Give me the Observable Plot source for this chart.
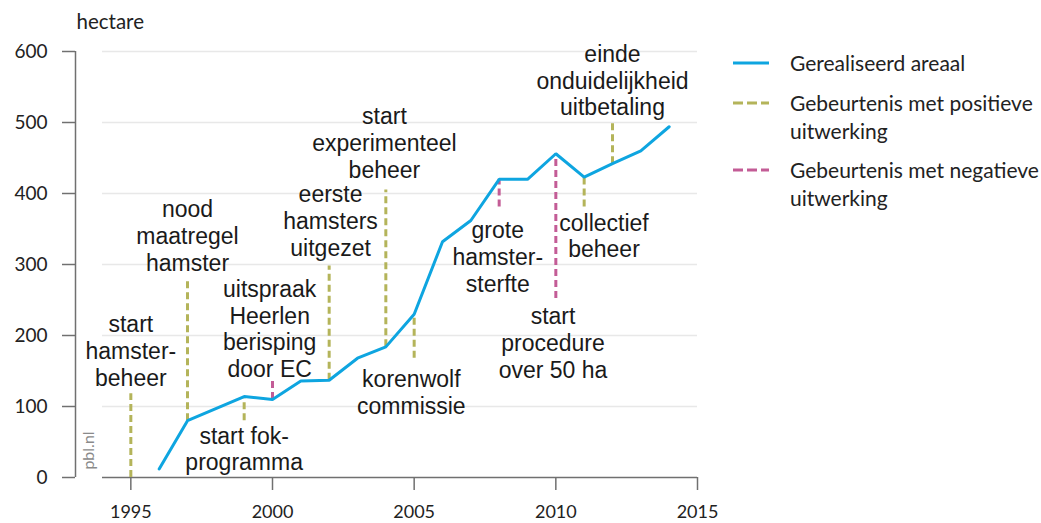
<!DOCTYPE html>
<html>
<head>
<meta charset="utf-8">
<script src="https://cdn.jsdelivr.net/npm/d3@7"></script>
<script src="https://cdn.jsdelivr.net/npm/@observablehq/plot@0.6"></script>
<style>
  body { margin: 0; background: #fff; }
  #wrap { position: relative; width: 1041px; height: 523px; overflow: hidden; }
  #legend { position: absolute; left: 733px; top: 49px; font-family: Lato, "Open Sans", sans-serif; font-size: 21px; color: #222; }
  .item { display: flex; align-items: flex-start; margin-bottom: 11.5px; }
  .item svg { flex: none; width: 36px; height: 28px; margin-right: 21px; }
  .item .lbl { line-height: 28px; white-space: pre; }
</style>
</head>
<body>
<div id="wrap"><div id="chart"></div><div id="legend"></div></div>
<script>
// Gerealiseerd areaal (hectare)
const years  = [1996, 1997, 1998, 1999, 2000, 2001, 2002, 2003, 2004, 2005, 2006, 2007, 2008, 2009, 2010, 2011, 2012, 2013, 2014];
const areaal = [12, 80, 97, 114, 110, 136, 137, 168, 184, 230, 332, 362, 420, 420, 456, 423, 442, 460, 494];

// Gebeurtenissen (dashed segments)
const eventYears = [1995, 1997, 1999, 2002, 2004, 2005, 2011, 2012, 2000, 2008, 2010];
const eventFrom  = [0, 80, 80, 137, 184, 168, 381, 442, 110, 381, 252];
const eventTo    = [118, 280, 114, 298, 405, 230, 423, 504, 136, 420, 456];
const eventType  = ["positief", "positief", "positief", "positief", "positief", "positief", "positief", "positief", "negatief", "negatief", "negatief"];

// Annotations
const labelTexts = [
  "start\nhamster-\nbeheer",
  "nood\nmaatregel\nhamster",
  "uitspraak\nHeerlen\nberisping\ndoor EC",
  "start fok-\nprogramma",
  "eerste\nhamsters\nuitgezet",
  "start\nexperimenteel\nbeheer",
  "korenwolf\ncommissie",
  "grote\nhamster-\nsterfte",
  "start\nprocedure\nover 50 ha",
  "einde\nonduidelijkheid\nuitbetaling",
  "collectief\nbeheer"
];
const labelYears  = [1995, 1997, 1999.9, 1999, 2002.05, 2003.95, 2004.9, 2007.95, 2009.9, 2012, 2011.7];
const labelValues = [179, 341, 210, 41, 362, 472, 120, 311, 190, 560, 341];

const xTicks = [1995, 2000, 2005, 2010, 2015];
const yTicks = [0, 100, 200, 300, 400, 500, 600];

const colors = { areaal: "#0ea5e0", positief: "#b4b45a", negatief: "#c35c96" };
const legendLabels = ["Gerealiseerd areaal", "Gebeurtenis met positieve\nuitwerking", "Gebeurtenis met negatieve\nuitwerking"];
const legendKeys = ["areaal", "positief", "negatief"];

const series = years.map((y, i) => ({ year: y, value: areaal[i] }));
const events = eventYears.map((y, i) => ({ year: y, from: eventFrom[i], to: eventTo[i], type: eventType[i] }));
const labels = labelTexts.map((t, i) => ({ text: t, year: labelYears[i], value: labelValues[i] }));

const axisGray = "#707070";

const chart = Plot.plot({
  width: 1041,
  height: 523,
  marginLeft: 102,
  marginRight: 344,
  marginTop: 51,
  marginBottom: 46,
  x: { domain: [1994, 2015] },
  y: { domain: [0, 600] },
  style: { fontFamily: "Lato, 'Open Sans', sans-serif", background: "#fff", overflow: "visible" },
  marks: [
    Plot.ruleY(yTicks.filter(d => d > 0), { stroke: "#e8e8e8", strokeWidth: 1.5 }),
    Plot.ruleY([0], { stroke: axisGray, strokeWidth: 1.5 }),
    Plot.ruleX([1994], { y1: 0, y2: 600, dx: -27, stroke: axisGray, strokeWidth: 1.5 }),
    Plot.axisY({ ticks: yTicks, tickSize: 13, tickPadding: 15, dx: -27, label: null, fontSize: 19, stroke: axisGray, fill: "#222", strokeWidth: 1.5, tickFormat: d => String(d) }),
    Plot.axisX({ ticks: xTicks, tickSize: 13, tickPadding: 15, label: null, fontSize: 18, stroke: axisGray, fill: "#222", strokeWidth: 1.5, tickFormat: d => String(d) }),
    Plot.ruleX(events, { x: "year", y1: "from", y2: "to", stroke: d => colors[d.type], strokeWidth: 3, strokeDasharray: "7,4" }),
    Plot.line(series, { x: "year", y: "value", stroke: colors.areaal, strokeWidth: 3, strokeLinejoin: "miter" }),
    Plot.text(labels, { x: "year", y: "value", text: "text", lineAnchor: "middle", fontSize: 23, lineHeight: 1.17, fontFamily: "'Liberation Sans', Arial, sans-serif", fill: "#1a1a1a" }),
    Plot.text(["hectare"], { frameAnchor: "top-left", dx: -26, dy: -29, textAnchor: "start", lineAnchor: "middle", fontSize: 20.5, fill: "#222" }),
    Plot.text(["pbl.nl"], { frameAnchor: "bottom-left", dx: -14, dy: -27, rotate: -90, textAnchor: "middle", lineAnchor: "middle", fontSize: 16, fill: "#8a8a8a" })
  ]
});
document.getElementById("chart").appendChild(chart);

const legend = document.getElementById("legend");
legendKeys.forEach((k, i) => {
  const item = document.createElement("div");
  item.className = "item";
  const dash = k === "areaal" ? "" : ' stroke-dasharray="10,4"';
  item.innerHTML = `<svg viewBox="0 0 36 28"><line x1="0" x2="36" y1="14" y2="14" stroke="${colors[k]}" stroke-width="3"${dash}/></svg><div class="lbl"></div>`;
  item.querySelector(".lbl").textContent = legendLabels[i];
  legend.appendChild(item);
});
</script>
</body>
</html>
